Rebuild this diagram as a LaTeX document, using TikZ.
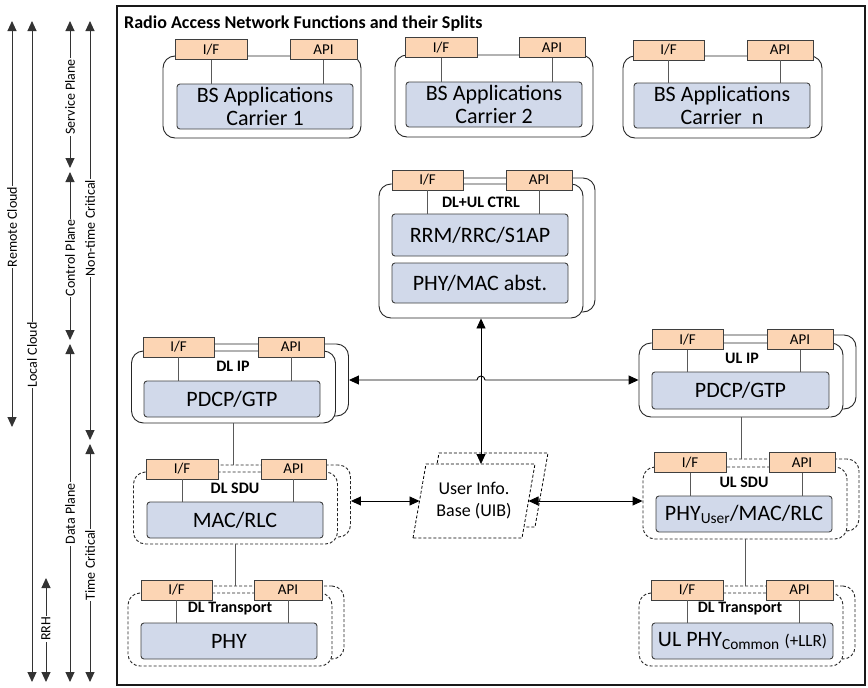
\documentclass[tikz,border=0pt]{standalone}
\usepackage{fontspec}
\setmainfont{Carlito}
\usepackage{tikz}
\usetikzlibrary{arrows.meta}
\definecolor{tabfill}{HTML}{FCD5B4}
\definecolor{tabline}{HTML}{3F3F3F}
\definecolor{funcfill}{HTML}{D1D9EA}
\definecolor{funcline}{HTML}{404040}
\definecolor{linkgray}{HTML}{595959}
\tikzset{
  group/.style={draw=black!85,fill=white,rounded corners=12pt,line width=0.9pt,
    minimum width=204pt,minimum height=73pt,inner sep=0pt},
  dgroup/.style={group,dash pattern=on 3pt off 2pt},
  tab/.style={draw=tabline,fill=tabfill,minimum height=20pt,inner sep=0pt,
    font=\fontsize{15}{15}\selectfont,line width=0.9pt},
  func/.style={draw=funcline,fill=funcfill,rounded corners=3pt,align=center,
    inner sep=0pt,minimum width=176pt,minimum height=36pt,
    font=\fontsize{22}{23}\selectfont,line width=0.9pt},
  grouplabel/.style={font=\bfseries\fontsize{16}{16}\selectfont,inner sep=1pt},
  link/.style={draw=linkgray,line width=0.9pt},
  biarrow/.style={{Triangle[length=10pt,width=9pt]}-{Triangle[length=10pt,width=9pt]},
    draw=black,line width=0.9pt},
  span/.style={biarrow,draw=black!80},
  spanlabel/.style={rotate=90,fill=white,inner sep=1pt,font=\fontsize{14}{14}\selectfont},
  uibline/.style={draw=black,fill=white,dash pattern=on 3pt off 2pt,line width=0.8pt}
}

\begin{document}
\begin{tikzpicture}[x=1pt,y=-1pt]
  \useasboundingbox (0,0) rectangle (868,688);

  % planes and latency spans on the left
  \coordinate (rc-t) at (12,21);  \coordinate (rc-b) at (12,427);
  \coordinate (lc-t) at (32,21);  \coordinate (lc-b) at (32,682);
  \coordinate (rrh-t) at (46,578); \coordinate (rrh-b) at (46,682);
  \coordinate (sp-t) at (70,21);  \coordinate (sp-b) at (70,168);
  \coordinate (cp-t) at (70,172); \coordinate (cp-b) at (70,340);
  \coordinate (dp-t) at (70,344); \coordinate (dp-b) at (70,682);
  \coordinate (nt-t) at (90,21);  \coordinate (nt-b) at (90,440);
  \coordinate (tc-t) at (90,444); \coordinate (tc-b) at (90,682);
  \draw[span] (rc-t) -- (rc-b);
  \draw[span] (lc-t) -- (lc-b);
  \draw[span] (rrh-t) -- (rrh-b);
  \draw[span] (sp-t) -- (sp-b);
  \draw[span] (cp-t) -- (cp-b);
  \draw[span] (dp-t) -- (dp-b);
  \draw[span] (nt-t) -- (nt-b);
  \draw[span] (tc-t) -- (tc-b);
  \node[spanlabel] (rclbl) at (12,227) {Remote Cloud};
  \node[spanlabel] (lclbl) at (32,355) {Local Cloud};
  \node[spanlabel] (rrhlbl) at (46,629) {RRH};
  \node[spanlabel] (splbl) at (70,97) {Service Plane};
  \node[spanlabel] (cplbl) at (70,258) {Control Plane};
  \node[spanlabel] (dplbl) at (70,514) {Data Plane};
  \node[spanlabel] (ntlbl) at (90,228) {Non-time Critical};
  \node[spanlabel] (tclbl) at (90,565) {Time Critical};

  % RAN frame
  \node[draw=black!90,line width=2.4pt,minimum width=748pt,minimum height=679pt,
    inner sep=0pt] (ran) at (491,345.5) {};
  \node[anchor=base west,font=\bfseries\fontsize{18}{18}\selectfont,inner sep=0pt]
    (title) at (124,28) {Radio Access Network Functions and their Splits};

  % BS applications, one per carrier
  \node[group,minimum width=198pt,minimum height=82pt] (c1) at (262,97) {};
  \node[func,minimum height=45pt] (c1app) at (265,106.5) {BS Applications\\Carrier 1};
  \node[tab,minimum width=72pt] (c1if) at (211,49.5) {I/F};
  \node[tab,minimum width=67pt] (c1api) at (323.5,49.5) {API};
  \draw[link] (c1if.south) -- (c1if.south |- c1app.north);
  \draw[link] (c1api.south) -- (c1api.south |- c1app.north);

  \node[group,minimum width=198pt,minimum height=82pt] (c2) at (494,96) {};
  \node[func,minimum height=45pt] (c2app) at (494,104.5) {BS Applications\\Carrier 2};
  \node[tab,minimum width=72pt] (c2if) at (441,47.5) {I/F};
  \node[tab,minimum width=66pt] (c2api) at (552,47.5) {API};
  \draw[link] (c2if.south) -- (c2if.south |- c2app.north);
  \draw[link] (c2api.south) -- (c2api.south |- c2app.north);

  \node[group,minimum width=199pt,minimum height=82pt] (cn) at (722.5,97) {};
  \node[func,minimum height=45pt] (cnapp) at (722,105.5) {BS Applications\\Carrier\ \ n};
  \node[tab,minimum width=71pt] (cnif) at (668.5,50) {I/F};
  \node[tab,minimum width=66pt] (cnapi) at (780,50) {API};
  \draw[link] (cnif.south) -- (cnif.south |- cnapp.north);
  \draw[link] (cnapi.south) -- (cnapi.south |- cnapp.north);

  % DL+UL control
  \node[group,minimum height=134pt] (ctrlB) at (493,245) {};
  \node[group,minimum height=134pt] (ctrl) at (481,251) {};
  \node[tab,minimum width=71pt] (ctrlif) at (427.5,180) {I/F};
  \node[tab,minimum width=66pt] (ctrlapi) at (539,180) {API};
  \node[grouplabel] (ctrllbl) at (481,202) {DL+UL CTRL};
  \node[func,minimum height=42pt] (rrm) at (480,235) {RRM/RRC/S1AP};
  \node[func,minimum height=40pt] (phymac) at (480,283) {PHY/MAC abst.};
  \draw[link] (ctrlif.south) -- (ctrlif.south |- rrm.north);
  \draw[link] (ctrlapi.south) -- (ctrlapi.south |- rrm.north);

  % downlink chain
  \node[group,minimum height=72pt] (dlipB) at (246.5,380) {};
  \node[group,minimum height=72pt] (dlip) at (233.5,387) {};
  \node[tab,minimum width=71pt] (dlipif) at (178.5,347) {I/F};
  \node[tab,minimum width=66pt] (dlipapi) at (291,347) {API};
  \node[grouplabel] (diplbl) at (233,366) {DL IP};
  \node[func] (dlpdcp) at (232,399) {PDCP/GTP};
  \draw[link] (dlipif.south) -- (dlipif.south |- dlpdcp.north);
  \draw[link] (dlipapi.south) -- (dlipapi.south |- dlpdcp.north);

  \node[dgroup,minimum height=72pt] (dlsduB) at (248.5,501) {};
  \node[dgroup,minimum height=72pt] (dlsdu) at (235.5,508) {};
  \node[tab,minimum width=72pt] (dlsduif) at (182,469) {I/F};
  \node[tab,minimum width=65pt] (dlsduapi) at (293.5,469) {API};
  \node[grouplabel] (dsdulbl) at (235,488) {DL SDU};
  \node[func] (dlmac) at (235,520) {MAC/RLC};
  \draw[link] (dlsduif.south) -- (dlsduif.south |- dlmac.north);
  \draw[link] (dlsduapi.south) -- (dlsduapi.south |- dlmac.north);

  \node[dgroup] (dltrB) at (242,622.5) {};
  \node[dgroup] (dltr) at (230,629.5) {};
  \node[tab,minimum width=71pt] (dltrif) at (176.5,590) {I/F};
  \node[tab,minimum width=68pt] (dltrapi) at (288,590) {API};
  \node[grouplabel] (dtrlbl) at (230,609) {DL Transport};
  \node[func] (dlphy) at (229,641) {PHY};
  \draw[link] (dltrif.south) -- (dltrif.south |- dlphy.north);
  \draw[link] (dltrapi.south) -- (dltrapi.south |- dlphy.north);

  % uplink chain
  \node[group,minimum height=74pt] (ulipB) at (754,372) {};
  \node[group,minimum height=74pt] (ulip) at (741,380) {};
  \node[tab,minimum width=71pt] (ulipif) at (687.5,339.5) {I/F};
  \node[tab,minimum width=66pt] (ulipapi) at (800,339.5) {API};
  \node[grouplabel] (uiplbl) at (742,358) {UL IP};
  \node[func,minimum width=177pt,minimum height=37pt] (ulpdcp) at (740.5,390.5) {PDCP/GTP};
  \draw[link] (ulipif.south) -- (ulipif.south |- ulpdcp.north);
  \draw[link] (ulipapi.south) -- (ulipapi.south |- ulpdcp.north);

  \node[dgroup,minimum height=72pt] (ulsduB) at (757,495) {};
  \node[dgroup,minimum height=72pt] (ulsdu) at (745,503) {};
  \node[tab,minimum width=72pt] (ulsduif) at (690,462.5) {I/F};
  \node[tab,minimum width=66pt] (ulsduapi) at (802,462.5) {API};
  \node[grouplabel] (usdulbl) at (744,482) {UL SDU};
  \node[func] (ulmac) at (744,514) {PHY\textsubscript{User}/MAC/RLC};
  \draw[link] (ulsduif.south) -- (ulsduif.south |- ulmac.north);
  \draw[link] (ulsduapi.south) -- (ulsduapi.south |- ulmac.north);

  \node[dgroup] (ultrB) at (753,622.5) {};
  \node[dgroup] (ultr) at (741,629.5) {};
  \node[tab,minimum width=72pt] (ultrif) at (687,590) {I/F};
  \node[tab,minimum width=67pt] (ultrapi) at (799.5,590) {API};
  \node[grouplabel] (utrlbl) at (740,609) {DL Transport};
  \node[func,minimum width=181pt] (ulphy) at (742.5,641)
    {UL PHY\textsubscript{Common} {\fontsize{17}{17}\selectfont(+LLR)}};
  \draw[link] (ultrif.south) -- (ultrif.south |- ulphy.north);
  \draw[link] (ultrapi.south) -- (ultrapi.south |- ulphy.north);

  % user information base: two slanted sheets
  \draw[uibline] (426,527) -- (439,453) -- (548,453) -- (535,527) -- cycle;
  \draw[uibline] (413,538) -- (426,464) -- (535,464) -- (522,538) -- cycle;
  \node[align=center,font=\fontsize{18}{22}\selectfont] (uib) at (474,501)
    {User Info.\\Base (UIB)};
  \coordinate (uib-n) at (481,464);
  \coordinate (uib-w) at (419.5,501);
  \coordinate (uib-e) at (528.5,501);

  % chain links
  \draw[link] (dlip.south) -- (dlip.south |- dlsduB.north);
  \draw[link] (dlsdu.south) -- (dlsdu.south |- dltrB.north);
  \draw[link] (ulip.south) -- (ulip.south |- ulsduB.north);
  \draw[link] (ulsdu.south) -- (ulsdu.south |- ultrB.north);

  % exchanges with the control and the UIB
  \draw[biarrow] (ctrl.south) -- (ctrl.south |- uib-n);
  \draw[biarrow] (dlipB.east) -- ([xshift=-4pt]dlipB.east -| ctrl.south)
    arc[start angle=180,end angle=0,radius=4pt] -- (ulip.west);
  \draw[biarrow] (dlsduB.east) -- (dlsduB.east -| uib-w);
  \draw[biarrow] (uib-e) -- (uib-e -| ulsdu.west);
\end{tikzpicture}
\end{document}
